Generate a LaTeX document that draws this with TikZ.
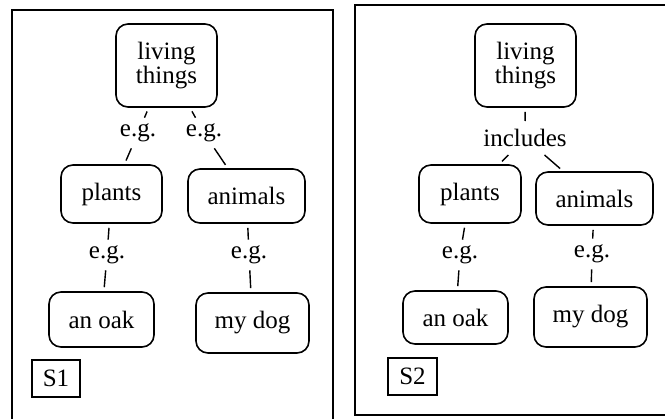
\documentclass[tikz,border=0pt]{standalone}
\usepackage{fontspec}
\setmainfont{Liberation Serif}
\begin{document}
\begin{tikzpicture}[x=1pt,y=-1pt,
  txt/.style={font=\fontsize{25}{22}\selectfont},
  box/.style={txt,draw,rounded corners=12pt,line width=1.6pt,align=center,inner sep=0pt},
  lbl/.style={txt,inner sep=6pt},
  tag/.style={txt,draw,line width=1.5pt,inner sep=0pt},
  frame/.style={line width=1.8pt},
  fromnode/.style={line width=1.4pt,shorten <=4pt},
  tonode/.style={line width=1.4pt,shorten >=4pt}
]
\useasboundingbox (0,0) rectangle (665,419);
% frames
\draw[frame] (12,425) -- (12,10) -- (333,10) -- (333,425);
\draw[frame] (670,415) -- (355,415) -- (355,5) -- (670,5);

% ---- left panel S1
\node[box,minimum width=101pt,minimum height=83pt] (LT1) at (166.5,65.5) {living\\things};
\node[box,minimum width=101pt,minimum height=58pt] (P1) at (111.5,194) {plants};
\node[box,minimum width=117pt,minimum height=54pt] (A1) at (246.5,196) {animals};
\node[box,minimum width=105pt,minimum height=55pt] (O1) at (101.5,319.5) {an oak};
\node[box,minimum width=113pt,minimum height=60pt] (D1) at (252.5,323) {my dog};
\node[tag,minimum width=48pt,minimum height=37pt] (S1) at (56,378.5) {S1};
\node[lbl] (eg1) at (138,133) {e.g.};
\node[lbl] (eg2) at (204,133) {e.g.};
\node[lbl] (eg3) at (107,255) {e.g.};
\node[lbl] (eg4) at (249,255) {e.g.};
\draw[fromnode] (LT1) -- (eg1);
\draw[tonode] (eg1) -- (P1);
\draw[fromnode] (LT1) -- (eg2);
\draw[tonode] (eg2) -- (A1);
\draw[fromnode] (P1) -- (eg3);
\draw[tonode] (eg3) -- (O1);
\draw[fromnode] (A1) -- (eg4);
\draw[tonode] (eg4) -- (D1);

% ---- right panel S2
\node[box,minimum width=101pt,minimum height=83pt] (LT2) at (525.5,65.5) {living\\things};
\node[lbl,inner sep=8pt] (inc) at (525,138) {includes};
\node[box,minimum width=102pt,minimum height=58pt] (P2) at (470,194) {plants};
\node[box,minimum width=117pt,minimum height=53pt] (A2) at (594.5,198.5) {animals};
\node[box,minimum width=105pt,minimum height=53pt] (O2) at (455.5,317.5) {an oak};
\node[box,minimum width=113pt,minimum height=60pt] (D2) at (590.5,317) {my dog};
\node[tag,minimum width=49pt,minimum height=37pt] (S2) at (412.5,376.5) {S2};
\node[lbl] (eg5) at (460,255) {e.g.};
\node[lbl] (eg6) at (592,254) {e.g.};
\draw[fromnode] (LT2) -- (inc);
\draw[tonode] (inc) -- (P2);
\draw[tonode] (inc) -- (A2);
\draw[fromnode] (P2) -- (eg5);
\draw[tonode] (eg5) -- (O2);
\draw[fromnode] (A2) -- (eg6);
\draw[tonode] (eg6) -- (D2);
\end{tikzpicture}
\end{document}
